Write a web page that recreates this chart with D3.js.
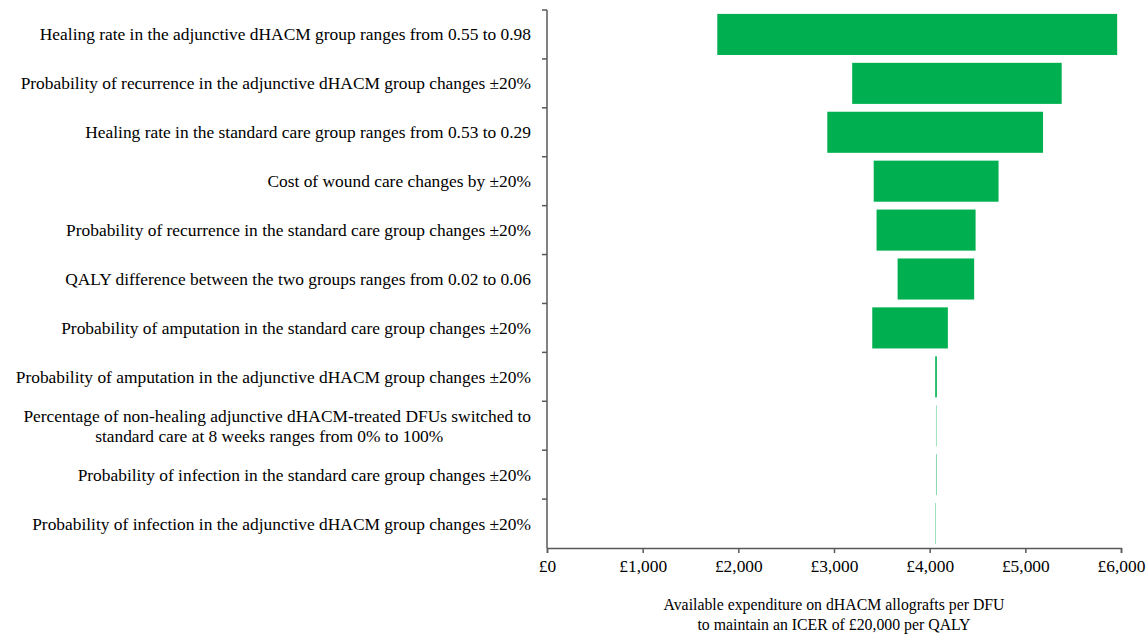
<!DOCTYPE html>
<html>
<head>
<meta charset="utf-8">
<script src="https://cdn.jsdelivr.net/npm/d3@7"></script>
<style>
  html, body { margin: 0; padding: 0; background: #fff; }
  svg { display: block; }
  text { font-family: "Liberation Serif", "Times New Roman", serif; fill: #000; }
</style>
</head>
<body>
<svg id="chart" width="1148" height="635"></svg>
<script>
// Tornado diagram: one-way sensitivity of the available expenditure per DFU
const parameters = [
  "Healing rate in the adjunctive dHACM group ranges from 0.55 to 0.98",
  "Probability of recurrence in the adjunctive dHACM group changes \u00b120%",
  "Healing rate in the standard care group ranges from 0.53 to 0.29",
  "Cost of wound care changes by \u00b120%",
  "Probability of recurrence in the standard care group changes \u00b120%",
  "QALY difference between the two groups ranges from 0.02 to 0.06",
  "Probability of amputation in the standard care group changes \u00b120%",
  "Probability of amputation in the adjunctive dHACM group changes \u00b120%",
  "Percentage of non-healing adjunctive dHACM-treated DFUs switched to\nstandard care at 8 weeks ranges from 0% to 100%",
  "Probability of infection in the standard care group changes \u00b120%",
  "Probability of infection in the adjunctive dHACM group changes \u00b120%"
];
const lowValues  = [1780, 3190, 2930, 3415, 3445, 3665, 3400, 4058, 4066, 4066, 4061];
const highValues = [5960, 5380, 5185, 4720, 4480, 4465, 4190, 4075, 4070, 4071, 4065];

const xTicks = [0, 1000, 2000, 3000, 4000, 5000, 6000];
const axisTitle = [
  "Available expenditure on dHACM allografts per DFU",
  "to maintain an ICER of \u00a320,000 per QALY"
];

const svg = d3.select("#chart");
const plot = { left: 547, right: 1121, top: 10, bottom: 548 };
const axisColor = "#595959";
const barColor = "#00b050";
const labelSize = 17.4;
const titleSize = 15.8;

const x = d3.scaleLinear().domain([0, 6000]).range([plot.left, plot.right]);
const y = d3.scaleBand().domain(d3.range(parameters.length))
  .range([plot.top, plot.bottom]).paddingInner(0.16).paddingOuter(0.08);

// bars
svg.append("g").selectAll("rect")
  .data(parameters.map((p, i) => ({ i, lo: lowValues[i], hi: highValues[i] })))
  .join("rect")
  .attr("x", d => x(d.lo))
  .attr("width", d => x(d.hi) - x(d.lo))
  .attr("y", d => y(d.i))
  .attr("height", y.bandwidth())
  .attr("fill", barColor);

// vertical category axis with tick marks between categories
const yStep = (plot.bottom - plot.top) / parameters.length;
const yAxis = svg.append("g");
yAxis.append("line")
  .attr("x1", plot.left).attr("x2", plot.left)
  .attr("y1", plot.top).attr("y2", plot.bottom)
  .attr("stroke", axisColor).attr("stroke-width", 1.5);
yAxis.selectAll("line.tick")
  .data(d3.range(parameters.length))
  .join("line").attr("class", "tick")
  .attr("x1", plot.left - 5).attr("x2", plot.left)
  .attr("y1", i => plot.top + i * yStep).attr("y2", i => plot.top + i * yStep)
  .attr("stroke", axisColor).attr("stroke-width", 1.5);

// category labels; a wrapped label has its second line centred under the first
const labelRight = 531;
const labelG = svg.append("g");
parameters.forEach((p, i) => {
  const lines = p.split("\n");
  const cy = plot.top + (i + 0.5) * yStep;
  const lh = 20;
  const t = labelG.append("text")
    .attr("font-size", labelSize)
    .attr("y", cy - (lines.length - 1) * lh / 2 + 6);
  if (lines.length === 1) {
    t.attr("text-anchor", "end").attr("x", labelRight).text(lines[0]);
  } else {
    const first = t.append("tspan")
      .attr("x", labelRight).attr("text-anchor", "end").text(lines[0]);
    const w = first.node().getComputedTextLength();
    lines.slice(1).forEach(ln => {
      t.append("tspan")
        .attr("x", labelRight - w / 2 - 8)
        .attr("dy", lh)
        .attr("text-anchor", "middle")
        .text(ln);
    });
  }
});

// horizontal value axis
const xAxis = d3.axisBottom(x)
  .tickValues(xTicks)
  .tickSize(5)
  .tickPadding(7)
  .tickFormat(d => "\u00a3" + d3.format(",")(d));
const xg = svg.append("g")
  .attr("transform", `translate(0,${plot.bottom})`)
  .call(xAxis);
xg.select(".domain").attr("stroke", axisColor).attr("stroke-width", 1.5);
xg.selectAll(".tick line").attr("stroke", axisColor).attr("stroke-width", 1.5);
xg.selectAll(".tick text")
  .attr("font-size", labelSize)
  .attr("font-family", "Liberation Serif, Times New Roman, serif")
  .attr("fill", "#000");

// axis title
const cx = (plot.left + plot.right) / 2;
svg.append("g").selectAll("text")
  .data(axisTitle)
  .join("text")
  .attr("text-anchor", "middle")
  .attr("font-size", titleSize)
  .attr("x", cx)
  .attr("y", (d, k) => 610 + k * 20)
  .text(d => d);
</script>
</body>
</html>
